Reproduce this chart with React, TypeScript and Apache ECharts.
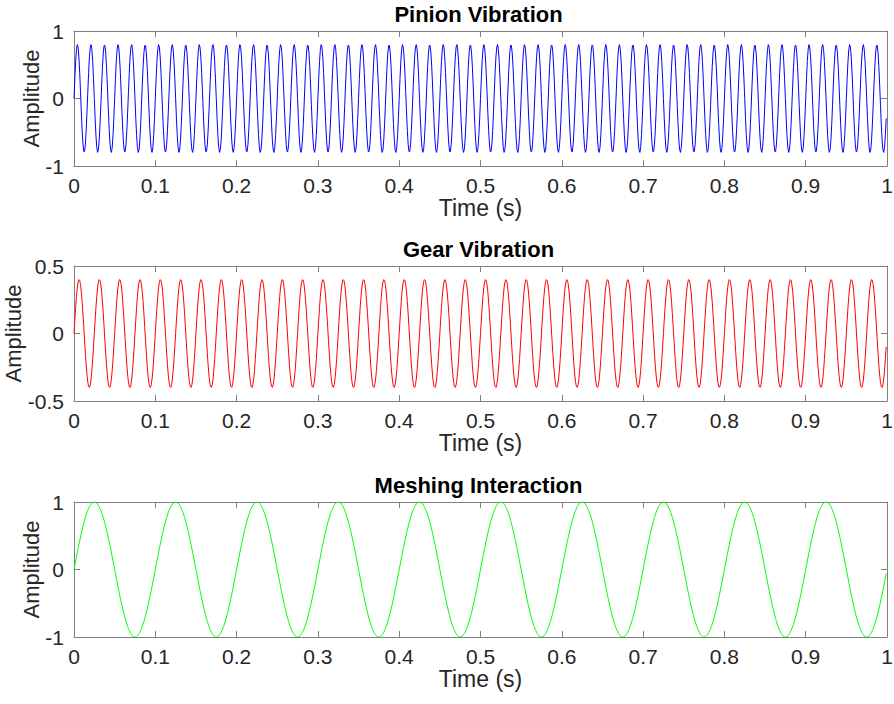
import React, { useEffect, useRef } from "react";
import * as echarts from "echarts";

// Signal parameters
const titles = ["Pinion Vibration", "Gear Vibration", "Meshing Interaction"];
const amplitudes = [0.8, 0.4, 1.0];
const frequencies = [60, 40, 10]; // Hz
const colors = ["#0000ff", "#ff0000", "#00ff00"];
const yMins = [-1, -0.5, -1];
const yMaxs = [1, 0.5, 1];
const yIntervals = [1, 0.5, 1];
const xTicks = [0, 0.1, 0.2, 0.3, 0.4, 0.5, 0.6, 0.7, 0.8, 0.9, 1];
const sampleRate = 1000; // samples per second, t = 0 .. 1 - 1/fs
const yNameGaps = [32, 50, 32];

const gridTops = [31, 266, 502];
const gridHeight = 135;
const gridLeft = 74;
const gridWidth = 813;

const time: number[] = [];
for (let i = 0; i < sampleRate; i++) time.push(i / sampleRate);

const signals: number[][] = amplitudes.map((a, k) =>
  time.map((t) => a * Math.sin(2 * Math.PI * frequencies[k] * t))
);

const FONT = "Liberation Sans, Arial, Helvetica, sans-serif";
const AXIS_COLOR = "#808080";
const TEXT_COLOR = "#262626";

export default function App() {
  const ref = useRef<HTMLDivElement>(null);
  useEffect(() => {
    if (!ref.current) return;
    const chart = echarts.init(ref.current, undefined, { renderer: "svg" });
    const grids: any[] = [];
    const xAxes: any[] = [];
    const yAxes: any[] = [];
    const series: any[] = [];
    const graphics: any[] = [];
    for (let k = 0; k < 3; k++) {
      grids.push({
        left: gridLeft, top: gridTops[k], width: gridWidth, height: gridHeight,
        containLabel: false, outerBoundsMode: "none",
      });
      const axLine = { show: true, onZero: false, lineStyle: { color: AXIS_COLOR, width: 1 } };
      const tick = { show: true, inside: true, length: 6, lineStyle: { color: AXIS_COLOR } };
      xAxes.push({
        type: "value", gridIndex: k, position: "bottom", min: xTicks[0], max: xTicks[xTicks.length - 1],
        interval: 0.1, axisLine: axLine, axisTick: tick, splitLine: { show: false },
        axisLabel: { color: TEXT_COLOR, fontSize: 21, lineHeight: 20, fontFamily: FONT, margin: 9 },
        name: "Time (s)", nameLocation: "middle", nameGap: 30, nameMoveOverlap: false,
        nameTextStyle: { color: TEXT_COLOR, fontSize: 23, lineHeight: 23, fontFamily: FONT },
      });
      xAxes.push({
        type: "value", gridIndex: k, position: "top", min: xTicks[0], max: xTicks[xTicks.length - 1],
        interval: 0.1, axisLine: axLine, axisTick: tick, splitLine: { show: false },
        axisLabel: { show: false },
      });
      yAxes.push({
        type: "value", gridIndex: k, position: "left", min: yMins[k], max: yMaxs[k], interval: yIntervals[k],
        axisLine: axLine, axisTick: tick, splitLine: { show: false },
        axisLabel: { color: TEXT_COLOR, fontSize: 21, fontFamily: FONT, margin: 10 },
        name: "Amplitude", nameLocation: "middle", nameGap: yNameGaps[k], nameMoveOverlap: false,
        nameTextStyle: { color: TEXT_COLOR, fontSize: 22, fontFamily: FONT },
      });
      yAxes.push({
        type: "value", gridIndex: k, position: "right", min: yMins[k], max: yMaxs[k], interval: yIntervals[k],
        axisLine: axLine, axisTick: tick, splitLine: { show: false },
        axisLabel: { show: false },
      });
      series.push({
        type: "line", xAxisIndex: 2 * k, yAxisIndex: 2 * k, showSymbol: false, symbol: "none",
        data: time.map((t, i) => [t, signals[k][i]]),
        lineStyle: { color: colors[k], width: 1 }, itemStyle: { color: colors[k] },
        clip: true,
      });
      graphics.push({
        type: "text", x: gridLeft + gridWidth / 2 - 2, y: gridTops[k] - 17,
        style: { text: titles[k], fontSize: 22, fontWeight: "bold", fontFamily: FONT, fill: "#000", align: "center", verticalAlign: "middle" },
      });
    }
    chart.setOption({
      animation: false,
      backgroundColor: "#ffffff",
      grid: grids,
      xAxis: xAxes,
      yAxis: yAxes,
      series,
      graphic: graphics,
    });
    return () => chart.dispose();
  }, []);
  return <div ref={ref} style={{ position: "fixed", left: 0, top: 0, width: 894, height: 704, background: "#fff" }} />;
}
